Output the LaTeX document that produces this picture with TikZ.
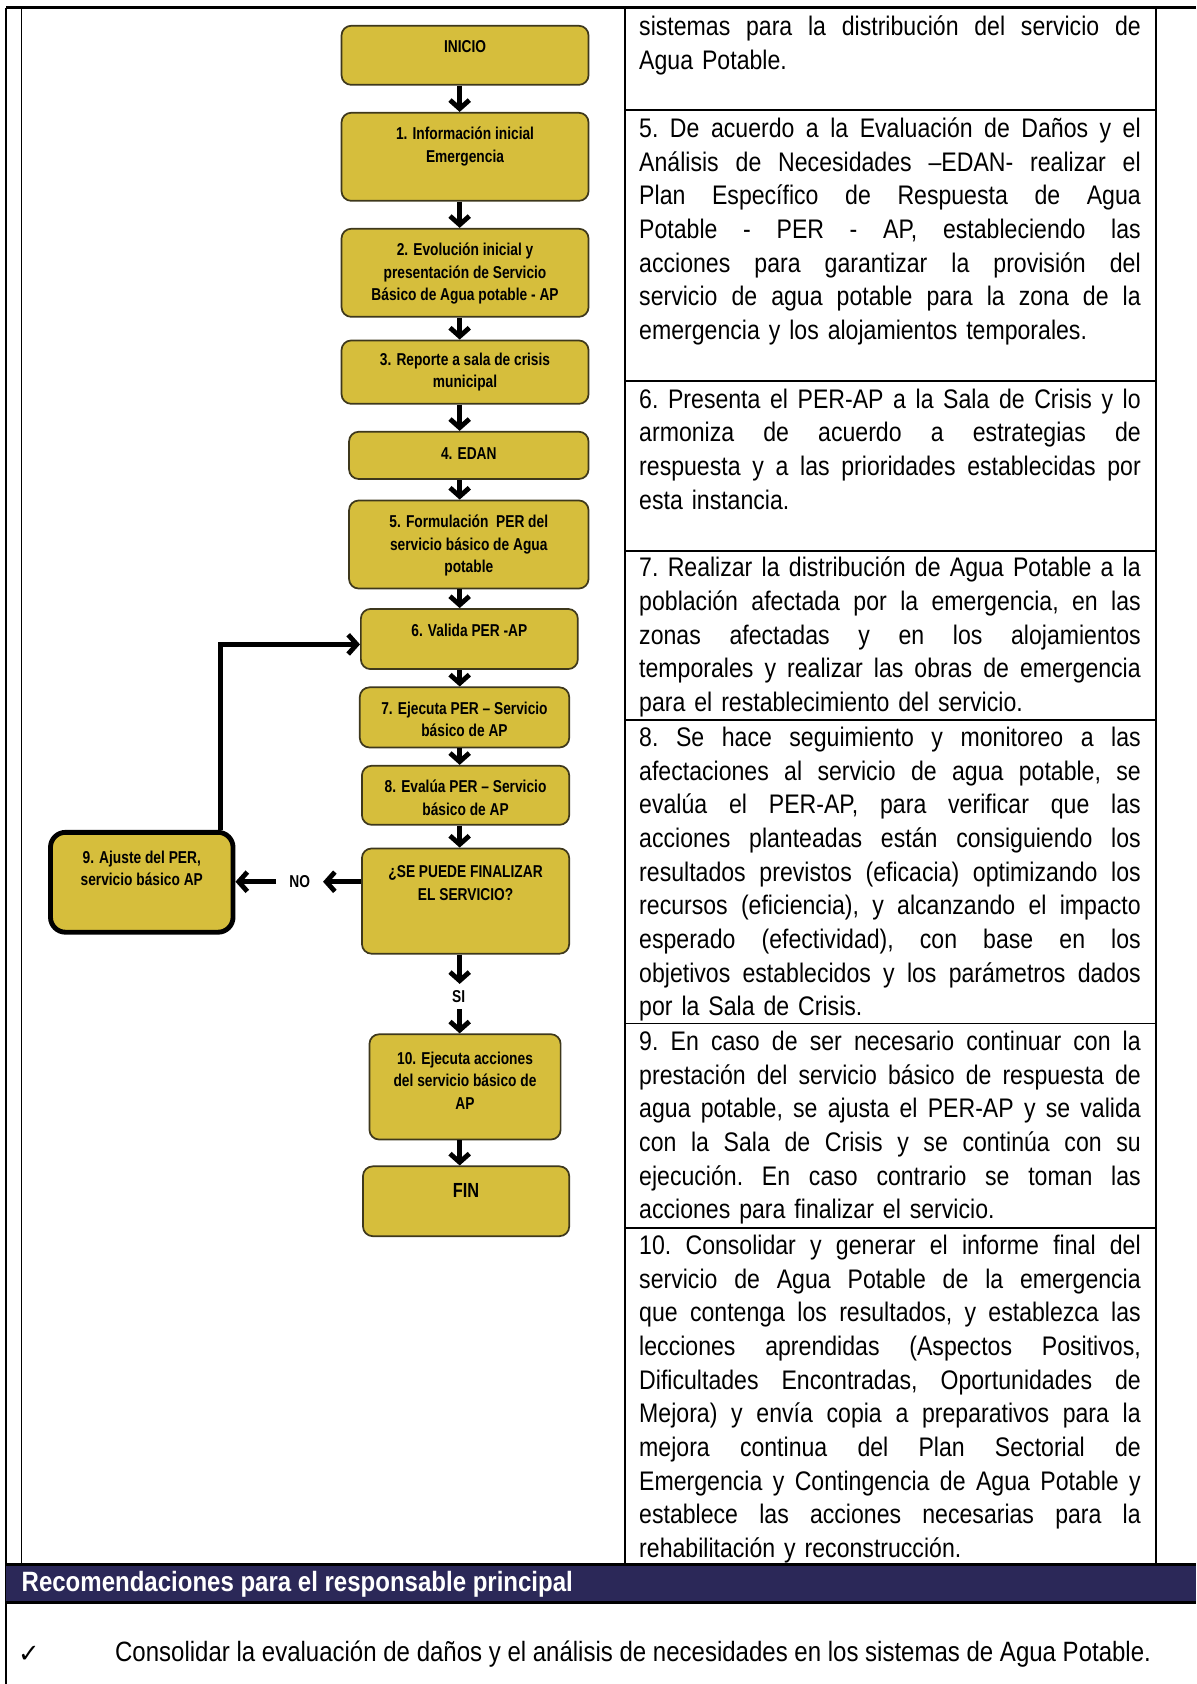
\documentclass[tikz,border=0pt]{standalone}
\usepackage{fontspec}
\setmainfont{Liberation Sans}[FakeStretch=0.86]
\newfontfamily\boxfont{Liberation Sans}[FakeStretch=0.8]
\newfontfamily\checkfont{DejaVu Sans}
\usepackage{xcolor}
\usepackage{tikz}
\usetikzlibrary{positioning,arrows.meta}
\pgfdeclarelayer{tablelayer}
\pgfdeclarelayer{nodelayer}
\pgfdeclarelayer{edgelayer}
\pgfsetlayers{tablelayer,main,nodelayer,edgelayer}
\definecolor{boxFill}{RGB}{214,190,60}
\definecolor{boxLine}{RGB}{62,56,28}
\definecolor{bandNavy}{RGB}{43,40,88}
\tikzstyle{step_box}=[rectangle, rounded corners=9pt, draw=boxLine, fill=boxFill, line width=1.6pt, inner sep=0pt]
\tikzstyle{adjust_box}=[rectangle, rounded corners=14pt, draw=black, fill=boxFill, line width=4.5pt, inner sep=0pt]
\tikzstyle{box_txt}=[align=center, font=\boxfont\bfseries\fontsize{16}{21}\selectfont]
\tikzstyle{flow_lbl}=[inner sep=0pt, font=\boxfont\bfseries\fontsize{16}{21}\selectfont]
\tikzstyle{flowArr}=[-{Straight Barb[length=8pt, width=18pt]}, line width=4.5pt, black]
\tikzstyle{cellRule}=[line width=1.8pt, black]
\tikzstyle{cell_txt}=[anchor=north west, inner sep=0pt, text width=467pt, font=\fontsize{25}{31.35}\selectfont\frenchspacing]
\newlength{\colw}
\setlength{\colw}{467pt}
% justified line: spaces stretch to fill the column
\newcommand{\jline}[1]{\leavevmode\hbox to \colw{\spaceskip=\fontdimen2\font plus 1fil minus .25\fontdimen2\font\relax\strut #1}\\}
\newcommand{\lline}[1]{\strut #1}

\begin{document}
\begin{tikzpicture}[x=1pt, y=-1pt]
        \useasboundingbox (0,0) rectangle (1114,1568);
        \begin{pgfonlayer}{tablelayer}
            %Table
            \draw [style=cellRule, line width=3pt] (6,7) -- (1114,7);
            \draw [style=cellRule] (6,7) -- (6,1568);
            \draw [style=cellRule] (20,7) -- (20,1457);
            \draw [style=cellRule] (582,7) -- (582,1457);
            \draw [style=cellRule] (1076,7) -- (1076,1457);
            \draw [style=cellRule] (582,102) -- (1076,102);
            \draw [style=cellRule] (582,355) -- (1076,355);
            \draw [style=cellRule] (582,513) -- (1076,513);
            \draw [style=cellRule] (582,670) -- (1076,670);
            \draw [style=cellRule] (582,953) -- (1076,953);
            \draw [style=cellRule] (582,1143) -- (1076,1143);
            \fill [bandNavy] (6,1457) rectangle (1114,1492);
            \draw [style=cellRule, line width=2.6pt] (6,1457) -- (1114,1457);
            \draw [style=cellRule, line width=2.6pt] (6,1492) -- (1114,1492);
        \end{pgfonlayer}
        \begin{pgfonlayer}{nodelayer}
            \coordinate (axis) at (428,0);
            \node [style=step_box, minimum width=230pt, minimum height=55pt, label={[box_txt, yshift=8.5pt]center:{INICIO}}] (Ini) at (433,51.5) {};
            \node [style=step_box, minimum width=230pt, minimum height=82pt, label={[box_txt, yshift=9.5pt]center:{1. Información inicial\\Emergencia}}] (B1) at (433,146) {};
            \node [style=step_box, minimum width=230pt, minimum height=82pt, label={[box_txt, yshift=-1pt]center:{2. Evolución inicial y\\presentación de Servicio\\Básico de Agua potable - AP}}] (B2) at (433,254) {};
            \node [style=step_box, minimum width=230pt, minimum height=59pt, label={[box_txt]center:{3. Reporte a sala de crisis\\municipal}}] (B3) at (433,346.5) {};
            \node [style=step_box, minimum width=223pt, minimum height=44pt, label={[box_txt, yshift=2pt]center:{4. EDAN}}] (B4) at (436.5,424) {};
            \node [style=step_box, minimum width=223pt, minimum height=82pt, label={[box_txt, yshift=-1pt]center:{5. Formulación~ PER del\\servicio básico de Agua\\potable}}] (B5) at (436.5,507) {};
            \node [style=step_box, minimum width=202pt, minimum height=56pt, label={[box_txt, yshift=8pt]center:{6. Valida PER -AP}}] (B6) at (437,595) {};
            \node [style=step_box, minimum width=195pt, minimum height=56pt, label={[box_txt, yshift=-2pt]center:{7. Ejecuta PER – Servicio\\básico de AP}}] (B7) at (432.5,668) {};
            \node [style=step_box, minimum width=193pt, minimum height=55pt, label={[box_txt, yshift=-2.5pt]center:{8. Evalúa PER – Servicio\\básico de AP}}] (B8) at (433.5,740.5) {};
            \node [style=step_box, minimum width=193pt, minimum height=98pt, label={[box_txt, yshift=17pt]center:{¿SE PUEDE FINALIZAR\\EL SERVICIO?}}] (Dec) at (433.5,839) {};
            \node [style=adjust_box, minimum width=170pt, minimum height=93pt, label={[box_txt, yshift=13pt]center:{9. Ajuste del PER,\\servicio básico AP}}] (B9) at (132,821.5) {};
            \node [style=step_box, minimum width=178pt, minimum height=98pt, label={[box_txt, yshift=6pt]center:{10. Ejecuta acciones\\del servicio básico de\\AP}}] (B10) at (433,1012) {};
            \node [style=step_box, minimum width=192pt, minimum height=65pt, label={[box_txt, font=\boxfont\bfseries\fontsize{19}{23}\selectfont, yshift=10.5pt]center:{FIN}}] (Fin) at (434,1118.5) {};
            \node [style=flow_lbl, inner xsep=12pt] (No) at (279,821) {NO};
            \node [style=flow_lbl, inner ysep=6pt] (Si) at (427,928) {SI};
        \end{pgfonlayer}
        \begin{pgfonlayer}{edgelayer}
                \draw [style=flowArr] (Ini.south -| axis) -- (B1.north -| axis);
                \draw [style=flowArr] (B1.south -| axis) -- (B2.north -| axis);
                \draw [style=flowArr] (B2.south -| axis) -- (B3.north -| axis);
                \draw [style=flowArr] (B3.south -| axis) -- (B4.north -| axis);
                \draw [style=flowArr] (B4.south -| axis) -- (B5.north -| axis);
                \draw [style=flowArr] (B5.south -| axis) -- (B6.north -| axis);
                \draw [style=flowArr] (B6.south -| axis) -- (B7.north -| axis);
                \draw [style=flowArr] (B7.south -| axis) -- (B8.north -| axis);
                \draw [style=flowArr] (B8.south -| axis) -- (Dec.north -| axis);
                \draw [style=flowArr] (Dec.south -| axis) -- (Si.north -| axis);
                \draw [style=flowArr] (Si.south -| axis) -- (B10.north -| axis);
                \draw [style=flowArr] (B10.south -| axis) -- (Fin.north -| axis);

                \draw [style=flowArr] ([yshift=18pt]Dec.west) -- (No.east);
                \draw [style=flowArr] (No.west) -- (No.west -| B9.east);
                \draw [style=flowArr] ([xshift=73pt]B9.north) |- ([yshift=-5pt]B6.west);
        \end{pgfonlayer}

        %Descriptions
        \node [style=cell_txt] (T4) at (595,11) {\jline{sistemas para la distribución del servicio de}\lline{Agua Potable.}};
        \node [style=cell_txt] (T5) at (595,106) {\jline{5. De acuerdo a la Evaluación de Daños y el}\jline{Análisis de Necesidades –EDAN- realizar el}\jline{Plan Específico de Respuesta de Agua}\jline{Potable - PER - AP, estableciendo las}\jline{acciones para garantizar la provisión del}\jline{servicio de agua potable para la zona de la}\lline{emergencia y los alojamientos temporales.}};
        \node [style=cell_txt] (T6) at (595,358) {\jline{6. Presenta el PER-AP a la Sala de Crisis y lo}\jline{armoniza de acuerdo a estrategias de}\jline{respuesta y a las prioridades establecidas por}\lline{esta instancia.}};
        \node [style=cell_txt] (T7) at (595,515) {\jline{7. Realizar la distribución de Agua Potable a la}\jline{población afectada por la emergencia, en las}\jline{zonas afectadas y en los alojamientos}\jline{temporales y realizar las obras de emergencia}\lline{para el restablecimiento del servicio.}};
        \node [style=cell_txt] (T8) at (595,673) {\jline{8. Se hace seguimiento y monitoreo a las}\jline{afectaciones al servicio de agua potable, se}\jline{evalúa el PER-AP, para verificar que las}\jline{acciones planteadas están consiguiendo los}\jline{resultados previstos (eficacia) optimizando los}\jline{recursos (eficiencia), y alcanzando el impacto}\jline{esperado (efectividad), con base en los}\jline{objetivos establecidos y los parámetros dados}\lline{por la Sala de Crisis.}};
        \node [style=cell_txt] (T9) at (595,956) {\jline{9. En caso de ser necesario continuar con la}\jline{prestación del servicio básico de respuesta de}\jline{agua potable, se ajusta el PER-AP y se valida}\jline{con la Sala de Crisis y se continúa con su}\jline{ejecución. En caso contrario se toman las}\lline{acciones para finalizar el servicio.}};
        \node [style=cell_txt] (T10) at (595,1146) {\jline{10. Consolidar y generar el informe final del}\jline{servicio de Agua Potable de la emergencia}\jline{que contenga los resultados, y establezca las}\jline{lecciones aprendidas (Aspectos Positivos,}\jline{Dificultades Encontradas, Oportunidades de}\jline{Mejora) y envía copia a preparativos para la}\jline{mejora continua del Plan Sectorial de}\jline{Emergencia y Contingencia de Agua Potable y}\jline{establece las acciones necesarias para la}\lline{rehabilitación y reconstrucción.}};

        %Recommendations
        \node [anchor=west, inner sep=0pt, text=white, font=\bfseries\fontsize{26}{30}\selectfont] (RecTitle) at (20,1475) {Recomendaciones para el responsable principal};
        \node [inner sep=0pt, font=\checkfont\fontsize{24}{28}\selectfont] (Check) at (27,1540) {✓};
        \node [anchor=west, inner sep=0pt, font=\fontsize{26}{30}\selectfont\frenchspacing] (RecOne) at (107,1540) {Consolidar la evaluación de daños y el análisis de necesidades en los sistemas de Agua Potable.};
    \end{tikzpicture}
\end{document}
